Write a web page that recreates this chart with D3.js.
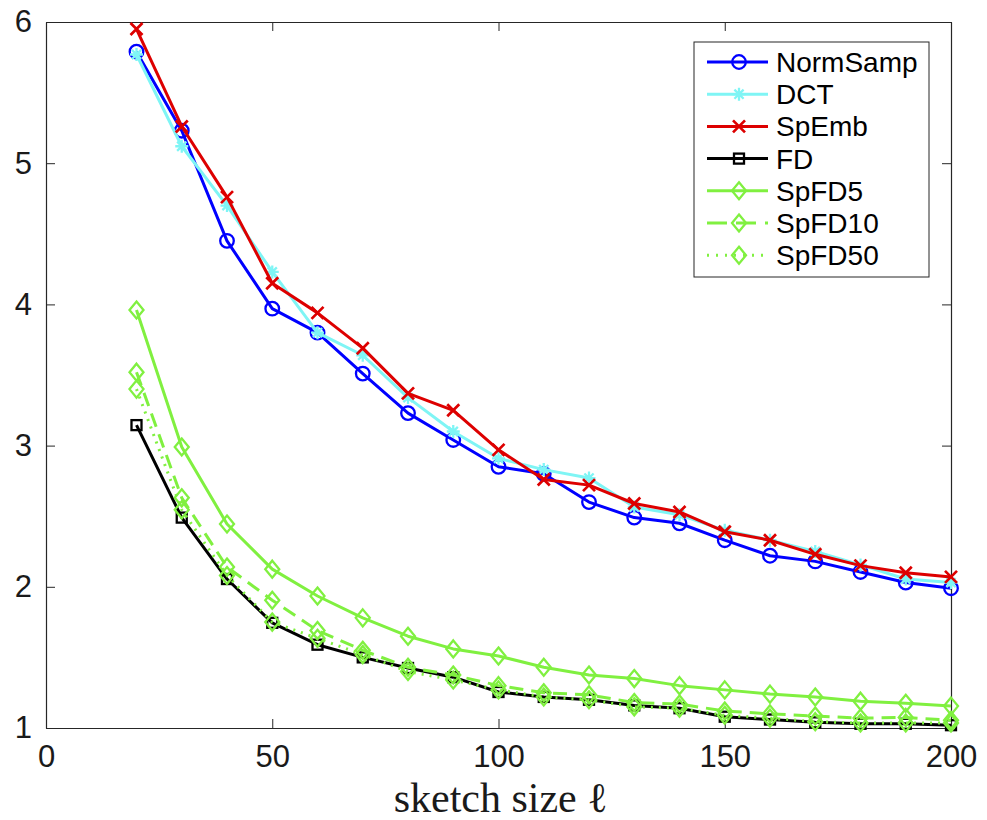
<!DOCTYPE html>
<html>
<head>
<meta charset="utf-8">
<script src="https://cdn.jsdelivr.net/npm/d3@7/dist/d3.min.js"></script>
<style>
html,body{margin:0;padding:0;background:#fff;}
svg{display:block;}
</style>
</head>
<body>
<svg id="chart" width="987" height="820"></svg>
<script>
const sketchSizes = [20,30,40,50,60,70,80,90,100,110,120,130,140,150,160,170,180,190,200];
const normSamp = [5.79,5.23,4.45,3.97,3.80,3.51,3.23,3.04,2.85,2.80,2.60,2.49,2.45,2.33,2.22,2.18,2.105,2.03,1.99];
const dct      = [5.77,5.12,4.70,4.23,3.80,3.64,3.34,3.10,2.91,2.83,2.77,2.565,2.51,2.40,2.33,2.25,2.155,2.055,2.03];
const spEmb    = [5.95,5.26,4.76,4.15,3.94,3.69,3.37,3.25,2.97,2.76,2.72,2.59,2.53,2.39,2.33,2.23,2.15,2.10,2.07];
const fd       = [3.145,2.49,2.055,1.745,1.59,1.50,1.425,1.36,1.255,1.22,1.20,1.16,1.14,1.08,1.06,1.04,1.03,1.03,1.02];
const spFD5    = [3.96,2.99,2.445,2.125,1.935,1.78,1.65,1.56,1.51,1.43,1.375,1.35,1.30,1.27,1.24,1.22,1.19,1.175,1.155];
const spFD10   = [3.52,2.63,2.14,1.905,1.69,1.55,1.43,1.375,1.30,1.25,1.235,1.18,1.17,1.12,1.10,1.085,1.07,1.075,1.055];
const spFD50   = [3.40,2.545,2.08,1.75,1.635,1.52,1.40,1.34,1.27,1.22,1.20,1.15,1.14,1.09,1.07,1.045,1.035,1.035,1.035];
const seriesNames = ["NormSamp","DCT","SpEmb","FD","SpFD5","SpFD10","SpFD50"];
const xTicks = [0,50,100,150,200];
const yTicks = [1,2,3,4,5,6];
const xLabel = "sketch size \u2113";

const seriesValues = [normSamp, dct, spEmb, fd, spFD5, spFD10, spFD50];
const styles = [
  {color:"#0000ff", marker:"circle", dash:null},
  {color:"#7ff5f5", marker:"asterisk", dash:null},
  {color:"#dd0000", marker:"cross", dash:null},
  {color:"#000000", marker:"square", dash:null},
  {color:"#80f040", marker:"diamond", dash:null},
  {color:"#80f040", marker:"diamond", dash:"14,8"},
  {color:"#80f040", marker:"diamond", dash:"2,6"}
];

const svg = d3.select("#chart");
const L = 46, R = 951, T = 22, B = 728;
const x = d3.scaleLinear().domain([0,200]).range([L,R]);
const y = d3.scaleLinear().domain([1,6]).range([B,T]);
const axisColor = "#262626";
const tickFont = "'Liberation Sans', Arial, Helvetica, sans-serif";
const fmt = d3.format("d");

const axG = svg.append("g");
const bottomAxis = d3.axisBottom(x).tickValues(xTicks).tickFormat(fmt).tickSizeInner(-9).tickSizeOuter(0).tickPadding(17);
const leftAxis = d3.axisLeft(y).tickValues(yTicks).tickFormat(fmt).tickSizeInner(-9).tickSizeOuter(0).tickPadding(14);
const topAxis = d3.axisTop(x).tickValues(xTicks).tickSizeInner(-9).tickSizeOuter(0).tickFormat("");
const rightAxis = d3.axisRight(y).tickValues(yTicks).tickSizeInner(-9).tickSizeOuter(0).tickFormat("");

function styleAxis(g){
  g.selectAll("path.domain").attr("stroke", axisColor).attr("stroke-width", 1.2);
  g.selectAll(".tick line").attr("stroke", axisColor).attr("stroke-width", 1);
  g.selectAll(".tick text").attr("fill", "#1a1a1a").style("font-family", tickFont).style("font-size","31px");
}
axG.append("g").attr("transform",`translate(0,${B})`).call(bottomAxis).call(styleAxis);
axG.append("g").attr("transform",`translate(${L},0)`).call(leftAxis).call(styleAxis);
axG.append("g").attr("transform",`translate(0,${T})`).call(topAxis).call(styleAxis);
axG.append("g").attr("transform",`translate(${R},0)`).call(rightAxis).call(styleAxis);

// x label
svg.append("text")
  .attr("x", (L+R)/2 + 2).attr("y", 812)
  .attr("text-anchor","middle")
  .style("font-family","'Liberation Serif','DejaVu Serif',serif")
  .style("font-size","42px")
  .attr("fill","#1a1a1a")
  .text(xLabel);

function drawMarker(g, type, cx, cy, color){
  const sw = 2.3;
  if(type==="circle"){
    g.append("circle").attr("cx",cx).attr("cy",cy).attr("r",6.8)
      .attr("fill","none").attr("stroke",color).attr("stroke-width",sw);
  } else if(type==="square"){
    g.append("rect").attr("x",cx-5).attr("y",cy-5).attr("width",10).attr("height",10)
      .attr("fill","none").attr("stroke",color).attr("stroke-width",sw);
  } else if(type==="diamond"){
    g.append("path").attr("d",`M${cx},${cy-8.5}L${cx+7},${cy}L${cx},${cy+8.5}L${cx-7},${cy}Z`)
      .attr("fill","none").attr("stroke",color).attr("stroke-width",sw);
  } else if(type==="cross"){
    const s=6;
    g.append("path").attr("d",`M${cx-s},${cy-s}L${cx+s},${cy+s}M${cx-s},${cy+s}L${cx+s},${cy-s}`)
      .attr("stroke",color).attr("stroke-width",2.7);
  } else if(type==="asterisk"){
    const s=6.5, d=s*0.707;
    g.append("path").attr("d",`M${cx},${cy-s}L${cx},${cy+s}M${cx-s},${cy}L${cx+s},${cy}M${cx-d},${cy-d}L${cx+d},${cy+d}M${cx-d},${cy+d}L${cx+d},${cy-d}`)
      .attr("stroke",color).attr("stroke-width",2.3);
  }
}

const line = d3.line().x(d=>x(d[0])).y(d=>y(d[1]));
const plotG = svg.append("g");
seriesValues.forEach((vals,i)=>{
  const st = styles[i];
  const pts = sketchSizes.map((s,j)=>[s, vals[j]]);
  const g = plotG.append("g");
  g.append("path").datum(pts).attr("d",line)
    .attr("fill","none").attr("stroke",st.color).attr("stroke-width",3)
    .attr("stroke-linejoin","round")
    .attr("stroke-dasharray", st.dash);
  pts.forEach(p=>drawMarker(g, st.marker, x(p[0]), y(p[1]), st.color));
});

// legend
const lg = svg.append("g");
const lx0 = 694, ly0 = 42, lw = 235, lh = 235;
lg.append("rect").attr("x",lx0).attr("y",ly0).attr("width",lw).attr("height",lh)
  .attr("fill","#fff").attr("stroke","#262626").attr("stroke-width",1);
seriesNames.forEach((name,i)=>{
  const st = styles[i];
  const cy = 62 + i*32.2;
  lg.append("line").attr("x1",707).attr("x2",768).attr("y1",cy).attr("y2",cy)
    .attr("stroke",st.color).attr("stroke-width",3)
    .attr("stroke-dasharray", st.dash ? (st.dash==="14,8" ? "20,9" : "2,7") : null);
  drawMarker(lg, st.marker, 739, cy, st.color);
  lg.append("text").attr("x",776).attr("y",cy).attr("dy","0.36em")
    .style("font-family",tickFont).style("font-size","28px").attr("fill","#000")
    .text(name);
});
</script>
</body>
</html>
